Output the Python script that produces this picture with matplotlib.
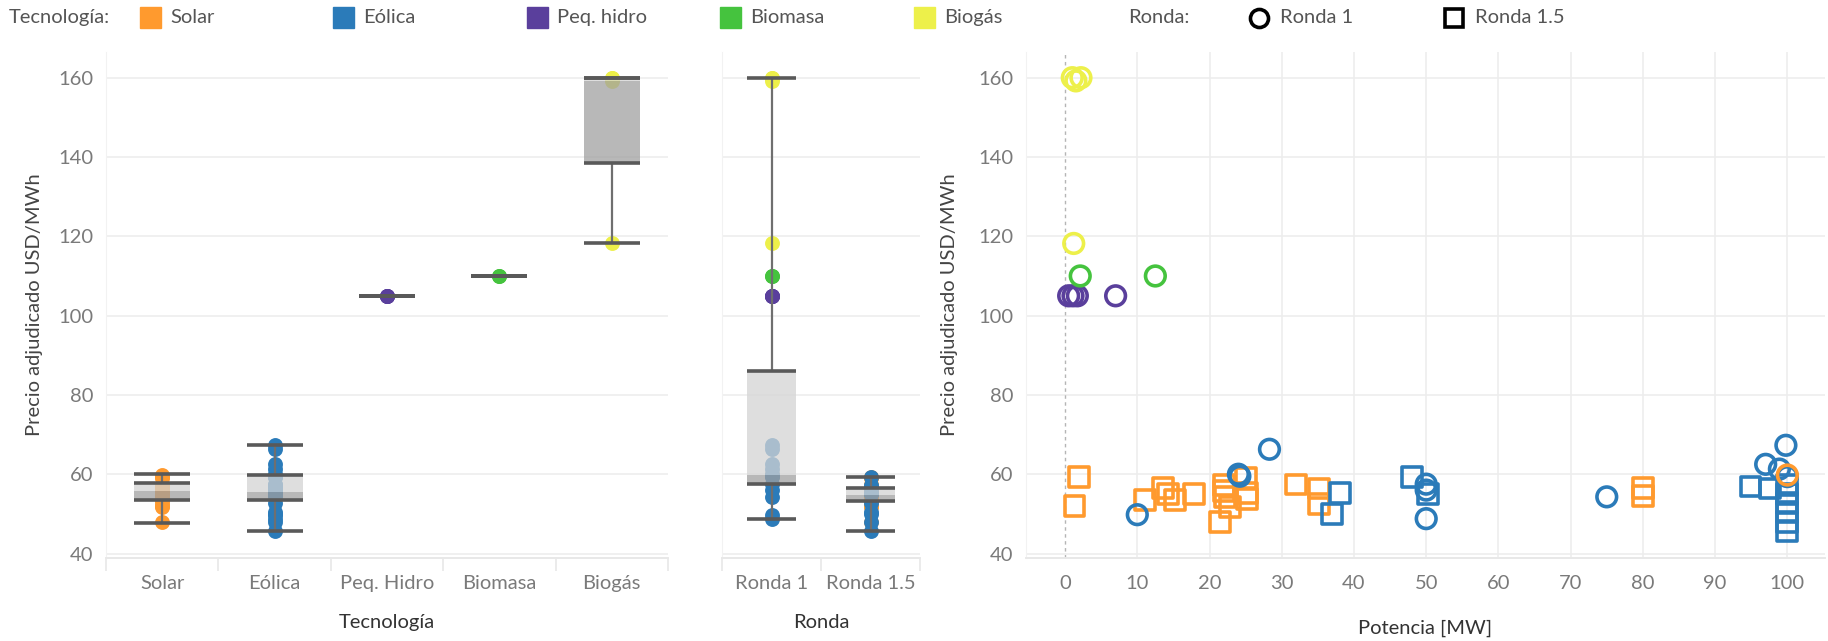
import numpy as np
import matplotlib.pyplot as plt
from matplotlib.lines import Line2D
from matplotlib.patches import Rectangle

plt.rcParams['font.family'] = ['Lato', 'DejaVu Sans']

colores = {"Solar": '#FF9A2E',
           "Eólica": '#2B7BB9',
           "Peq. hidro": '#5A3F9C',
           "Biomasa": '#45C33E',
           "Biogás": '#EDF04A'}

tecnologias = ["Solar", "Eólica", "Peq. hidro", "Biomasa", "Biogás"]
tec_etiquetas = ["Solar", "Eólica", "Peq. Hidro", "Biomasa", "Biogás"]
rondas = ["Ronda 1", "Ronda 1.5"]

# proyectos adjudicados: tecnologia, ronda, potencia [MW], precio [USD/MWh]
tecnologia = (["Solar"] * 20 + ["Solar"] + ["Eólica"] * 12 + ["Eólica"] * 12
              + ["Peq. hidro"] * 4 + ["Biomasa"] * 2 + ["Biogás"] * 4)
ronda = (["Ronda 1.5"] * 20 + ["Ronda 1"] + ["Ronda 1"] * 12 + ["Ronda 1.5"] * 12
         + ["Ronda 1"] * 4 + ["Ronda 1"] * 2 + ["Ronda 1"] * 4)
potencia = [1.9, 1.3, 11.1, 13.6, 14.3, 15.2, 17.8, 22.0, 22.0, 22.2,
            22.8, 21.4, 25.1, 25.2, 25.2, 32.0, 35.2, 35.2, 80.0, 80.0,
            100.0,
            10.0, 24.0, 24.2, 28.3, 50.0, 50.0, 50.0, 75.0, 97.0, 98.9, 99.8, 100.0,
            36.9, 38.1, 48.0, 50.2, 94.9, 97.6, 100.0, 100.0, 100.0, 100.0, 100.0, 100.0,
            0.5, 1.1, 1.7, 7.0,
            2.1, 12.5,
            1.2, 1.0, 1.5, 2.2]
precio = [59.3, 52.0, 53.4, 56.6, 55.0, 53.4, 55.0, 57.2, 55.8, 54.2,
          51.7, 47.9, 59.0, 55.3, 53.7, 57.4, 56.4, 52.6, 56.5, 54.5,
          59.8,
          49.8, 60.0, 59.5, 66.3, 57.5, 56.0, 48.8, 54.3, 62.5, 61.3, 67.3, 59.4,
          50.0, 55.3, 59.4, 55.0, 56.9, 56.4, 57.2, 55.0, 52.8, 50.5, 48.0, 45.7,
          105.0, 105.0, 105.0, 105.0,
          110.0, 110.0,
          118.2, 160.0, 159.2, 160.0]

# estadisticos de las cajas
tec_lo = [47.8, 45.7, 105.0, 110.0, 118.2]
tec_q1 = [53.5, 53.5, 105.0, 110.0, 138.5]
tec_med = [55.7, 55.5, 105.0, 110.0, 159.2]
tec_q3 = [57.7, 59.8, 105.0, 110.0, 160.0]
tec_hi = [60.0, 67.3, 105.0, 110.0, 160.0]

ronda_lo = [48.8, 45.7]
ronda_q1 = [57.6, 53.2]
ronda_med = [59.7, 54.7]
ronda_q3 = [86.0, 56.6]
ronda_hi = [160.0, 59.4]

grid_col = '#ededed'
tick_col = '#7a7a7a'
title_col = '#333333'
fs = 14.5


def caja(ax, x, lo, q1, med, q3, hi, ancho=0.5):
    x0, x1 = x - ancho / 2, x + ancho / 2
    ax.vlines(x, lo, q1, color='#6f6f6f', lw=1.6, zorder=2.5)
    ax.vlines(x, q3, hi, color='#6f6f6f', lw=1.6, zorder=2.5)
    ax.fill_between([x0, x1], q1, med, color='#a0a0a0', alpha=0.75, lw=0, zorder=3)
    ax.fill_between([x0, x1], med, q3, color='#d4d4d4', alpha=0.75, lw=0, zorder=3)
    ax.hlines([lo, q1, q3, hi], x0, x1, color='#595959', lw=2.6, zorder=4)


def estilo(ax):
    ax.set_ylim(38.8, 166.5)
    ax.set_yticks(range(40, 161, 20))
    ax.yaxis.grid(True, color=grid_col, lw=1.2)
    ax.set_axisbelow(True)
    for s in ['top', 'right']:
        ax.spines[s].set_visible(False)
    ax.spines['left'].set_color('#f2f2f2')
    ax.spines['bottom'].set_color('#e8e8e8')
    ax.spines['bottom'].set_linewidth(1.4)
    ax.tick_params(axis='both', which='major', length=0, labelsize=fs, labelcolor=tick_col)
    ax.tick_params(axis='y', pad=9)
    ax.tick_params(axis='x', pad=12)


def categorias(ax, etiquetas):
    n = len(etiquetas)
    ax.set_xlim(-0.5, n - 0.5)
    ax.set_xticks(range(n))
    ax.set_xticklabels(etiquetas)
    ax.set_xticks(np.arange(-0.5, n, 1.0), minor=True)
    ax.tick_params(axis='x', which='minor', length=9, width=1.2, color='#e8e8e8')


fig = plt.figure(figsize=(18.28, 6.41), dpi=100)
ax1 = fig.add_axes([0.058, 0.129, 0.3074, 0.79])
ax2 = fig.add_axes([0.395, 0.129, 0.1083, 0.79], sharey=ax1)
ax3 = fig.add_axes([0.5613, 0.129, 0.437, 0.79])

tecnologia = np.array(tecnologia)
ronda = np.array(ronda)
potencia = np.array(potencia)
precio = np.array(precio)

# cajas por tecnologia
estilo(ax1)
categorias(ax1, tec_etiquetas)
for i, t in enumerate(tecnologias):
    m = tecnologia == t
    ax1.scatter(np.full(m.sum(), i), precio[m], s=115, color=colores[t], lw=0, zorder=2)
    caja(ax1, i, tec_lo[i], tec_q1[i], tec_med[i], tec_q3[i], tec_hi[i])
ax1.set_ylabel("Precio adjudicado USD/MWh", fontsize=fs, color='#444444')
ax1.yaxis.set_label_coords(-0.112, 0.5)
ax1.set_xlabel("Tecnología", fontsize=fs, color=title_col)
ax1.xaxis.set_label_coords(0.5, -0.11)

# cajas por ronda
estilo(ax2)
categorias(ax2, rondas)
plt.setp(ax2.get_yticklabels(), visible=False)
for j, r in enumerate(rondas):
    for t in tecnologias:
        m = (ronda == r) & (tecnologia == t)
        if m.sum():
            ax2.scatter(np.full(m.sum(), j), precio[m], s=115, color=colores[t], lw=0, zorder=2)
    caja(ax2, j, ronda_lo[j], ronda_q1[j], ronda_med[j], ronda_q3[j], ronda_hi[j])
ax2.set_xlabel("Ronda", fontsize=fs, color=title_col)
ax2.xaxis.set_label_coords(0.5, -0.11)

# precio vs potencia
estilo(ax3)
ax3.set_xlim(-5.4, 105.2)
ax3.set_xticks(range(0, 101, 10))
ax3.xaxis.grid(True, color=grid_col, lw=1.2)
ax3.get_xgridlines()[0].set_visible(False)
ax3.axvline(0, color='#b5b5b5', lw=1.0, ls=(0, (2.5, 2.5)), zorder=1)
orden = [("Ronda 1.5", 's', ["Solar", "Eólica"]),
         ("Ronda 1", 'o', ["Eólica", "Solar", "Peq. hidro", "Biomasa", "Biogás"])]
for r, mk, techs in orden:
    for t in techs:
        m = (ronda == r) & (tecnologia == t)
        ax3.scatter(potencia[m], precio[m], marker=mk, s=200 if mk == 'o' else 205,
                    facecolors='none', edgecolors=colores[t], linewidths=2.6, zorder=3)
ax3.set_ylabel("Precio adjudicado USD/MWh", fontsize=fs, color='#444444')
ax3.yaxis.set_label_coords(-0.085, 0.5)
ax3.set_xlabel("Potencia [MW]", fontsize=fs, color=title_col)
ax3.xaxis.set_label_coords(0.5, -0.122)

# leyenda superior
W, H = 1828.0, 641.0
yl = 1 - 17.5 / H
fig.text(9 / W, yl, "Tecnología:", fontsize=fs, color='#555555', va='center')
sw = [140, 333, 527, 720, 914]
for t, x0 in zip(tecnologias, sw):
    fig.add_artist(Rectangle((x0 / W, yl - 10.5 / H), 21 / W, 21 / H,
                             transform=fig.transFigure, color=colores[t]))
    fig.text((x0 + 30) / W, yl, t, fontsize=fs, color='#555555', va='center')
fig.text(1128 / W, yl, "Ronda:", fontsize=fs, color='#555555', va='center')
fig.add_artist(Line2D([1259 / W], [yl], marker='o', ms=13, mew=2.6, mfc='none',
                      mec='black', transform=fig.transFigure))
fig.text(1280 / W, yl, "Ronda 1", fontsize=fs, color='#555555', va='center')
fig.add_artist(Line2D([1454 / W], [yl], marker='s', ms=13, mew=2.6, mfc='none',
                      mec='black', transform=fig.transFigure))
fig.text(1475 / W, yl, "Ronda 1.5", fontsize=fs, color='#555555', va='center')

plt.savefig("out.png", dpi=100)
